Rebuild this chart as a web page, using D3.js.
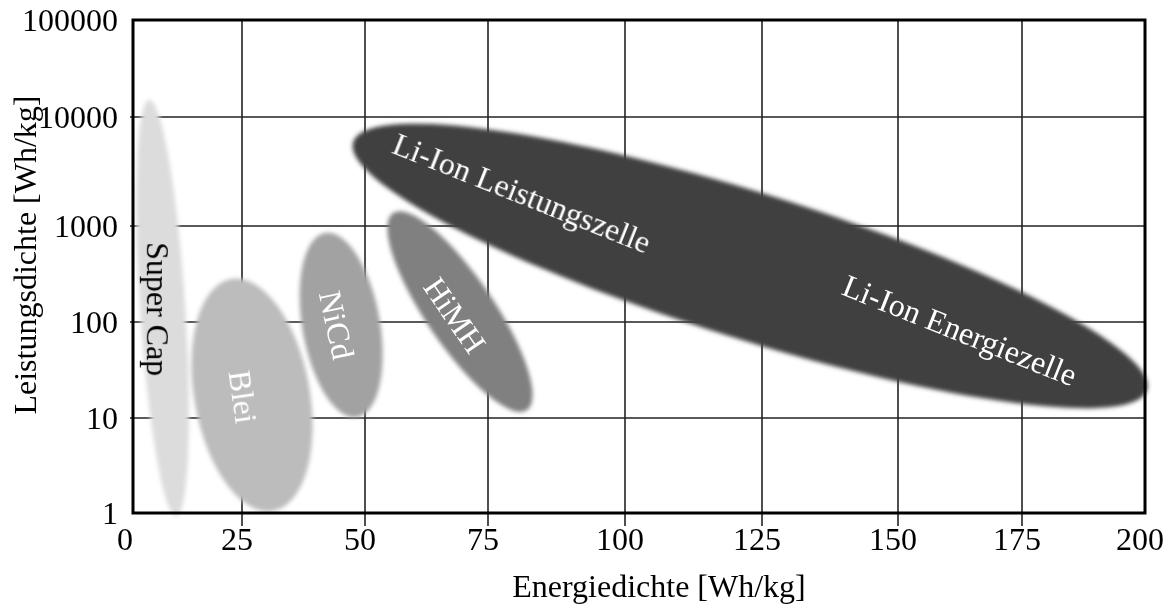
<!DOCTYPE html>
<html>
<head>
<meta charset="utf-8">
<script src="https://cdn.jsdelivr.net/npm/d3@7"></script>
<style>
  body { margin: 0; background: #fff; }
  text { font-family: "Liberation Serif", "Times New Roman", serif; }
</style>
</head>
<body>
<div id="chart"></div>
<script>
// axis ticks
const xTicks = [0, 25, 50, 75, 100, 125, 150, 175, 200];
const yTicks = [1, 10, 100, 1000, 10000, 100000];

// battery regions: major axis from (energyStart, powerStart) to (energyEnd, powerEnd)
const cells = ["Super Cap", "Blei", "NiCd", "HiMH", "Li-Ion"];
const energyStart = [3.7, 22.5, 41.9, 55.7, 47.6];
const powerStart = [15000, 280, 845, 1316, 5900];
const energyEnd = [9.9, 31.3, 48.4, 82.1, 200.4];
const powerEnd = [0.93, 1.05, 10.2, 12.1, 19.6];
const thickness = [0.108, 0.49, 0.416, 0.286, 0.176]; // minor / major

// labels
const labelText = ["Super Cap", "Blei", "NiCd", "HiMH", "Li-Ion Leistungszelle", "Li-Ion Energiezelle"];
const labelEnergy = [5.7, 25.2, 44.3, 68.3, 81.2, 162.5];
const labelPower = [136, 16.6, 93, 118, 2010, 82.6];

var width = 1173, height = 611;
var fontSize = 32;

var svg = d3.select("#chart")
    .append("svg")
    .attr("width", width)
    .attr("height", height);

// the grid in the original is not evenly spaced, so use piecewise scales
var x = d3.scaleLinear()
    .domain(xTicks)
    .range([133, 242, 365, 488, 625, 762, 898, 1022, 1145]);

var y = d3.scaleLog()
    .domain(yTicks)
    .range([513, 418, 322, 226, 117, 20]);

var color = d3.scaleOrdinal()
    .domain(cells)
    .range(["#dcdcdc", "#bcbcbc", "#a2a2a2", "#808080", "#414141"]);

var labelAngle = [90, 82, 78, 55.5, 21.7, 21.8];
var labelColor = ["#000", "#fff", "#fff", "#fff", "#fff", "#fff"];

var x0 = x.range()[0], x1 = x.range()[x.range().length - 1];
var y0 = y.range()[0], y1 = y.range()[y.range().length - 1];

// blur filter for the soft edges
var defs = svg.append("defs");
defs.append("filter")
    .attr("id", "soft")
    .attr("x", "-20%").attr("y", "-20%")
    .attr("width", "140%").attr("height", "140%")
    .append("feGaussianBlur")
    .attr("stdDeviation", 2);

// grid lines (with small ticks outside the frame)
var grid = svg.append("g").attr("stroke", "#222").attr("stroke-width", 1.6);
grid.selectAll(".vx")
    .data(xTicks.slice(1, -1))
    .enter().append("line")
    .attr("x1", function (d) { return x(d); })
    .attr("x2", function (d) { return x(d); })
    .attr("y1", y1)
    .attr("y2", y0 + 13);
grid.selectAll(".hy")
    .data(yTicks.slice(1, -1))
    .enter().append("line")
    .attr("x1", x0 - 3)
    .attr("x2", x1)
    .attr("y1", function (d) { return y(d); })
    .attr("y2", function (d) { return y(d); });

// ellipses
var shapes = cells.map(function (c, i) {
    var ax = x(energyStart[i]), ay = y(powerStart[i]);
    var bx = x(energyEnd[i]), by = y(powerEnd[i]);
    var len = Math.hypot(bx - ax, by - ay);
    return {
        name: c,
        cx: (ax + bx) / 2,
        cy: (ay + by) / 2,
        rx: len / 2,
        ry: len / 2 * thickness[i],
        angle: Math.atan2(by - ay, bx - ax) * 180 / Math.PI
    };
});

svg.append("g")
    .attr("filter", "url(#soft)")
    .selectAll("ellipse")
    .data(shapes)
    .enter().append("ellipse")
    .attr("cx", function (d) { return d.cx; })
    .attr("cy", function (d) { return d.cy; })
    .attr("rx", function (d) { return d.rx; })
    .attr("ry", function (d) { return d.ry; })
    .attr("transform", function (d) { return "rotate(" + d.angle + "," + d.cx + "," + d.cy + ")"; })
    .attr("fill", function (d) { return color(d.name); });

// labels inside the regions
svg.append("g")
    .selectAll("text")
    .data(labelText)
    .enter().append("text")
    .attr("transform", function (d, i) {
        return "translate(" + x(labelEnergy[i]) + "," + y(labelPower[i]) + ") rotate(" + labelAngle[i] + ")";
    })
    .attr("text-anchor", "middle")
    .attr("dy", "0.35em")
    .attr("font-size", fontSize)
    .attr("fill", function (d, i) { return labelColor[i]; })
    .text(function (d) { return d; });

// frame
svg.append("rect")
    .attr("x", x0)
    .attr("y", y1)
    .attr("width", x1 - x0)
    .attr("height", y0 - y1)
    .attr("fill", "none")
    .attr("stroke", "#000")
    .attr("stroke-width", 3);

// tick labels
svg.append("g")
    .selectAll("text")
    .data(xTicks)
    .enter().append("text")
    .attr("x", function (d) { return x(d) - (d === 0 ? 8 : 5); })
    .attr("y", 550)
    .attr("text-anchor", "middle")
    .attr("font-size", fontSize)
    .text(function (d) { return d; });

svg.append("g")
    .selectAll("text")
    .data(yTicks)
    .enter().append("text")
    .attr("x", x0 - 15)
    .attr("y", function (d) { return y(d); })
    .attr("dy", "0.35em")
    .attr("text-anchor", "end")
    .attr("font-size", fontSize)
    .text(function (d) { return d; });

// axis titles
svg.append("text")
    .attr("x", 659)
    .attr("y", 597)
    .attr("text-anchor", "middle")
    .attr("font-size", fontSize)
    .text("Energiedichte [Wh/kg]");

svg.append("text")
    .attr("transform", "translate(36,255) rotate(-90)")
    .attr("text-anchor", "middle")
    .attr("font-size", fontSize)
    .text("Leistungsdichte [Wh/kg]");
</script>
</body>
</html>
